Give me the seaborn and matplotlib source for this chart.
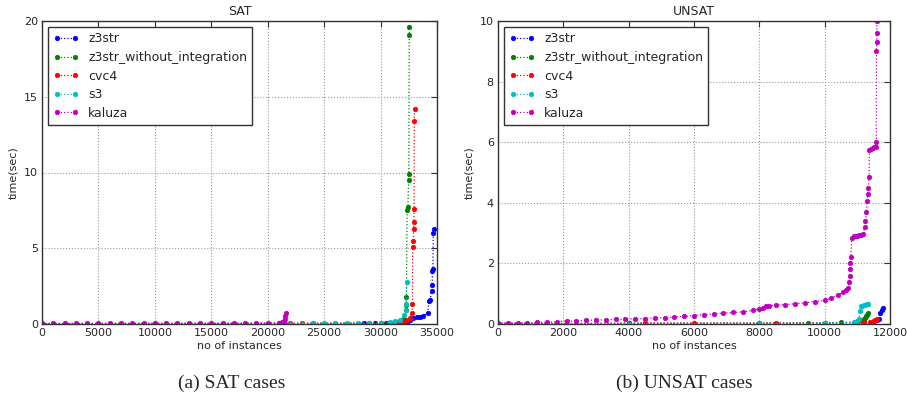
import matplotlib
matplotlib.use("Agg")
import matplotlib.pyplot as plt
import seaborn as sns

# solver names and classic colours
solvers = ["z3str", "z3str_without_integration", "cvc4", "s3", "kaluza"]
colors = ["#0000ff", "#008000", "#ff0000", "#00bfbf", "#bf00bf"]

# SAT cases: (instances solved, time in sec)
sat_x = {
    "z3str": [0, 10000, 20000, 28500, 29500, 30500, 31000, 31800, 32300, 32600,
              32900, 33200, 33500, 33800, 34170, 34290, 34400, 34530, 34570,
              34600, 34640, 34670, 34700],
    "z3str_without_integration": [0, 10000, 20000, 29000, 30000, 31000, 31500,
                                  32100, 32220, 32250, 32290, 32350, 32420,
                                  32480, 32500, 32540, 32560],
    "cvc4": [0, 10000, 20000, 21000, 22000, 23000, 24000, 30000, 31500, 32010,
             32300, 32610, 32760, 32820, 32850, 32900, 32930, 32950, 32970,
             32990, 33010],
    "s3": [0, 10000, 20000, 22000, 23000, 24000, 25000, 26000, 27000, 28000,
           29000, 30000, 30840, 31300, 31720, 32080, 32220, 32280, 32310],
    "kaluza": [0, 1000, 2000, 3000, 4000, 5000, 6000, 7000, 8000, 9000, 10000,
               11000, 12000, 13000, 14000, 15000, 16000, 17000, 18000, 19000,
               20000, 21000, 21300, 21400, 21450, 21500, 21550, 21600],
}
sat_y = {
    "z3str": [0.01, 0.02, 0.03, 0.05, 0.06, 0.07, 0.08, 0.11, 0.15, 0.25,
              0.38, 0.43, 0.48, 0.55, 0.7, 1.5, 1.6, 2.2, 2.6,
              3.5, 3.6, 6.0, 6.3],
    "z3str_without_integration": [0.01, 0.02, 0.03, 0.05, 0.06, 0.08, 0.1,
                                  0.3, 0.9, 1.25, 1.8, 7.5, 7.7, 9.5, 9.9,
                                  19.1, 19.6],
    "cvc4": [0.01, 0.02, 0.03, 0.04, 0.04, 0.05, 0.05, 0.06, 0.09, 0.15,
             0.25, 0.38, 0.7, 1.3, 5.1, 5.5, 6.3, 6.7, 7.6, 13.4, 14.2],
    "s3": [0.01, 0.02, 0.03, 0.03, 0.03, 0.04, 0.04, 0.04, 0.05, 0.05,
           0.06, 0.08, 0.15, 0.2, 0.26, 0.6, 0.92, 1.3, 2.8],
    "kaluza": [0.04, 0.04, 0.04, 0.04, 0.04, 0.04, 0.05, 0.05, 0.05, 0.05,
               0.05, 0.05, 0.06, 0.06, 0.06, 0.06, 0.06, 0.06, 0.06, 0.07,
               0.07, 0.08, 0.1, 0.15, 0.22, 0.3, 0.5, 0.7],
}

# UNSAT cases
unsat_x = {
    "z3str": [0, 4000, 8000, 10000, 11000, 11500, 11600, 11650, 11700, 11750,
              11800],
    "z3str_without_integration": [0, 4000, 8000, 9500, 10500, 11000, 11150,
                                  11200, 11240, 11260, 11300, 11330],
    "cvc4": [0, 4000, 4500, 6000, 8500, 10000, 10900, 11200, 11400, 11500,
             11550, 11600],
    "s3": [0, 4000, 8000, 10000, 10900, 11000, 11050, 11080, 11120, 11150,
           11200, 11250, 11300, 11330],
    "kaluza": [0, 300, 600, 900, 1200, 1500, 1800, 2100, 2400, 2700, 3000,
               3300, 3600, 3900, 4200, 4500, 4800, 5100, 5400, 5700, 6000,
               6300, 6600, 6900, 7200, 7500, 7800, 8000, 8100, 8200, 8300,
               8500, 8800, 9100, 9400, 9700, 10000, 10200, 10400, 10550,
               10650, 10720, 10760, 10770, 10780, 10790, 10800, 10830, 10900,
               10950, 11000, 11050, 11100, 11180, 11220, 11250, 11280, 11300,
               11320, 11340, 11360, 11370, 11420, 11470, 11520, 11570, 11580,
               11585, 11590, 11595, 11600],
}
unsat_y = {
    "z3str": [0.01, 0.02, 0.02, 0.03, 0.05, 0.1, 0.14, 0.17, 0.37, 0.45,
              0.54],
    "z3str_without_integration": [0.01, 0.02, 0.03, 0.04, 0.05, 0.06, 0.1,
                                  0.15, 0.21, 0.26, 0.3, 0.37],
    "cvc4": [0.01, 0.02, 0.03, 0.03, 0.03, 0.03, 0.04, 0.06, 0.08, 0.1,
             0.13, 0.17],
    "s3": [0.01, 0.01, 0.02, 0.03, 0.06, 0.1, 0.17, 0.43, 0.58, 0.6, 0.62,
           0.64, 0.65, 0.66],
    "kaluza": [0.04, 0.04, 0.04, 0.04, 0.05, 0.05, 0.08, 0.09, 0.1, 0.12,
               0.13, 0.14, 0.15, 0.16, 0.17, 0.18, 0.2, 0.21, 0.23, 0.25,
               0.28, 0.31, 0.33, 0.36, 0.38, 0.4, 0.45, 0.5, 0.54, 0.58,
               0.6, 0.62, 0.64, 0.67, 0.7, 0.74, 0.78, 0.86, 0.95, 1.05,
               1.12, 1.2, 1.4, 1.6, 1.8, 2.0, 2.2, 2.85, 2.9, 2.91, 2.92,
               2.93, 2.95, 2.98, 3.2, 3.4, 3.7, 4.07, 4.3, 4.5, 4.85,
               5.75, 5.78, 5.8, 5.83, 5.85, 6.0, 9.0, 9.3, 9.6, 10.0],
}

sns.set_style("white")
plt.rcParams["font.family"] = ["DejaVu Sans"]

fig = plt.figure(figsize=(9.07, 4.0), dpi=100)
ax1 = fig.add_axes([42 / 907, 76 / 400, 395 / 907, 303 / 400])
ax2 = fig.add_axes([498 / 907, 76 / 400, 392 / 907, 303 / 400])


def draw_panel(ax, xs, ys, title, xmax, xstep, ymax, ystep):
    for name, col in zip(solvers, colors):
        sns.lineplot(x=xs[name], y=ys[name], ax=ax, color=col, label=name,
                     linestyle=":", linewidth=0.9, marker=".", markersize=6.5,
                     markeredgecolor=col, markeredgewidth=0.5,
                     estimator=None, sort=False)
    ax.set_xlim(0, xmax)
    ax.set_ylim(0, ymax)
    ax.set_xticks(range(0, xmax + 1, xstep))
    ax.set_yticks(range(0, ymax + 1, ystep))
    ax.grid(True, linestyle=":", color="0.6", linewidth=0.8)
    ax.tick_params(direction="in", top=True, right=True, length=4,
                   labelsize=8, pad=3, color="0.2")
    for s in ax.spines.values():
        s.set_color("0.2")
        s.set_linewidth(1)
    ax.set_title(title, fontsize=9, pad=4)
    ax.set_xlabel("no of instances", fontsize=8, labelpad=2)
    ax.set_ylabel("time(sec)", fontsize=8, labelpad=4)
    leg = ax.legend(loc="upper left", fontsize=9.0, numpoints=2,
                    handlelength=2.0, fancybox=False, framealpha=1,
                    edgecolor="0.2", borderaxespad=0.5, labelspacing=0.45)
    leg.get_frame().set_linewidth(1)


draw_panel(ax1, sat_x, sat_y, "SAT", 35000, 5000, 20, 5)
draw_panel(ax2, unsat_x, unsat_y, "UNSAT", 12000, 2000, 10, 2)

fig.text(232 / 907, 1 - 383 / 400, "(a) SAT cases", ha="center", va="center",
         fontsize=14, family="Liberation Serif")
fig.text(684 / 907, 1 - 383 / 400, "(b) UNSAT cases", ha="center", va="center",
         fontsize=14, family="Liberation Serif")

fig.savefig("out.png", dpi=100)
